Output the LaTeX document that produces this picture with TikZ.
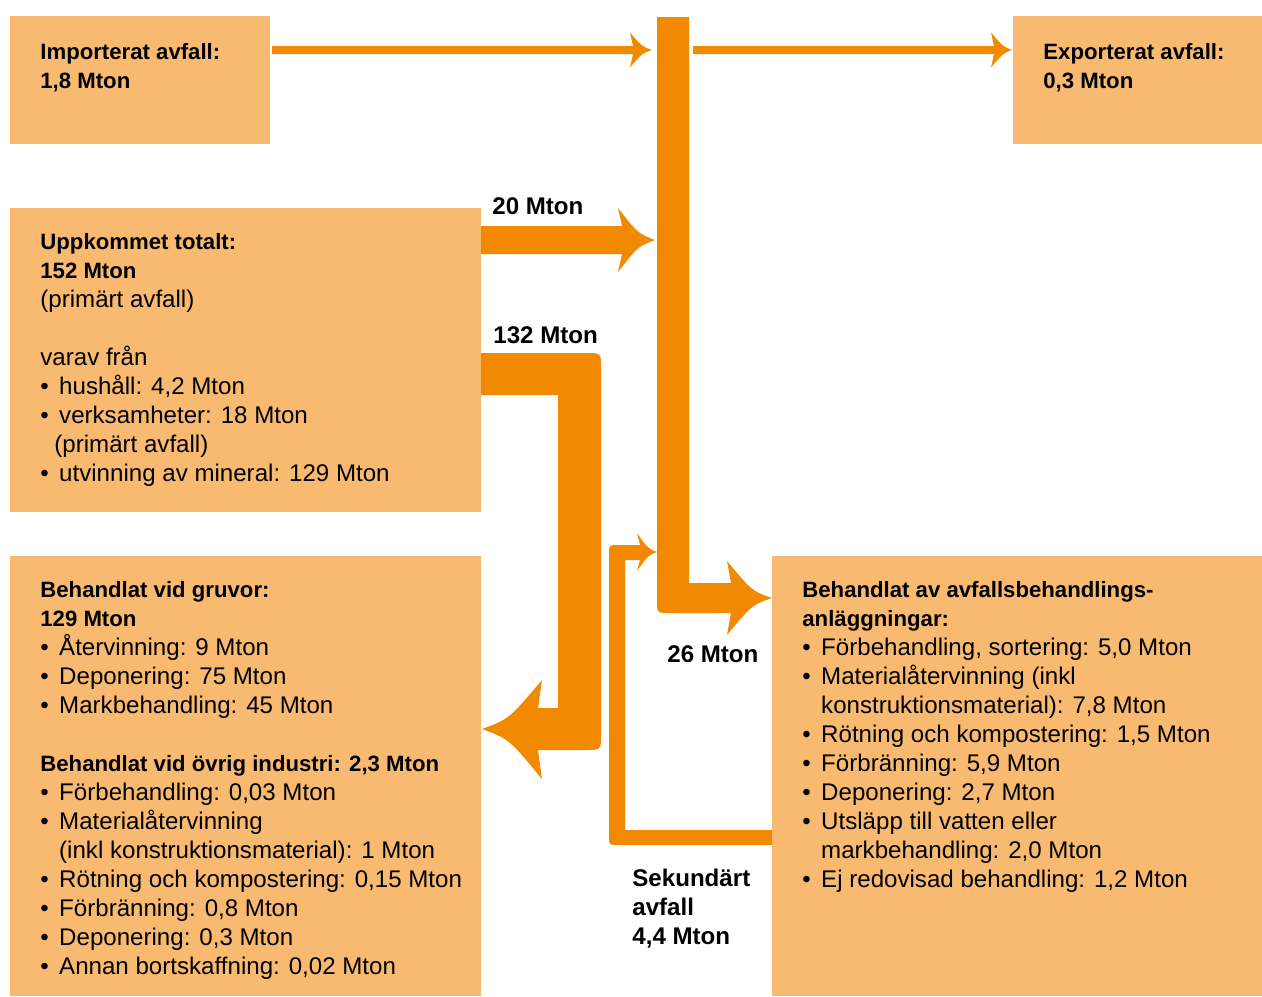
\documentclass[tikz,border=0pt]{standalone}
\usepackage{fontspec}
\setmainfont{Liberation Sans}[BoldFeatures={Scale=0.92}]
\definecolor{flowor}{RGB}{241,138,0}
\definecolor{boxor}{RGB}{248,186,112}
\newcommand{\bul}{\textbullet\hspace{5.2pt}}
\newcommand{\ind}{\hspace*{9.4pt}}

\begin{document}
\begin{tikzpicture}[
  x=0.5pt, y=-0.5pt,
  box/.style={fill=boxor, draw=none, inner sep=0pt, anchor=north west},
  flow/.style={fill=flowor},
  txt/.style={anchor=north west, align=left, inner sep=0pt,
    font=\fontsize{12.05}{14.5}\selectfont},
  lbl/.style={txt, font=\fontsize{13.1}{14.4}\selectfont\bfseries},
]
\useasboundingbox (0,0) rectangle (1262,996);

% boxes
\node[box, minimum width=130pt, minimum height=64pt]   (impbox) at (10,16) {};
\node[box, minimum width=124.5pt, minimum height=64pt] (expbox) at (1013,16) {};
\node[box, minimum width=235.5pt, minimum height=152pt] (uppbox) at (10,208) {};
\node[box, minimum width=235.5pt, minimum height=220pt] (gruvbox) at (10,556) {};
\node[box, minimum width=245pt, minimum height=220pt] (anlbox) at (772,556) {};

% flows
\fill[flow] (272,46) -- (633,46) -- (630,32.5) .. controls (642,46.5) .. (652,50)
  .. controls (642,53.5) .. (630,67.5) -- (633,54) -- (272,54) -- cycle;
\fill[flow] (693,46) -- (994,46) -- (991,32.5) .. controls (1003,46.5) .. (1012,50)
  .. controls (1003,53.5) .. (991,67.5) -- (994,54) -- (693,54) -- cycle;
\fill[flow] (481,226) -- (622,226) -- (618,208) .. controls (638,233.5) .. (655,240)
  .. controls (638,246.5) .. (618,272) -- (622,254) -- (481,254) -- cycle;
\fill[flow] (657,17) -- (689,17) -- (689,583) -- (731,583) -- (727,561)
  .. controls (752,591) .. (772,598) .. controls (752,605) .. (727,635)
  -- (731,613) -- (670,613) .. controls (657,613) .. (657,600) -- cycle;
\fill[flow] (481,353) -- (586,353) .. controls (601,353) .. (601,368)
  -- (601,735) .. controls (601,750) .. (586,750) -- (538,750) -- (542,779)
  .. controls (509,739) .. (482,729) .. controls (509,719) .. (542,680)
  -- (538,708) -- (558,708) -- (558,395) -- (481,395) -- cycle;
\fill[flow] (772,830) -- (625,830) -- (625,560) -- (640,560) -- (637,571)
  .. controls (648,555.5) .. (657,552) .. controls (648,548.5) .. (637,533)
  -- (640,545) -- (618,545) .. controls (609,545) .. (609,554)
  -- (609,836) .. controls (609,845) .. (618,845) -- (772,845) -- cycle;

% texts
\node[txt] (imptext) at (40,43) {\textbf{Importerat avfall:}\\\textbf{1,8 Mton}};
\node[txt] (exptext) at (1043,43) {\textbf{Exporterat avfall:}\\\textbf{0,3 Mton}};
\node[txt] (upptext) at (40,233) {\textbf{Uppkommet totalt:}\\
  \textbf{152 Mton}\\
  (primärt avfall)\\[14.5pt]
  varav från\\
  \bul hushåll: 4,2 Mton\\
  \bul verksamheter: 18 Mton\\
  \hspace*{7pt}(primärt avfall)\\
  \bul utvinning av mineral: 129 Mton};
\node[txt] (gruvtext) at (40,581) {\textbf{Behandlat vid gruvor:}\\
  \textbf{129 Mton}\\
  \bul Återvinning: 9 Mton\\
  \bul Deponering: 75 Mton\\
  \bul Markbehandling: 45 Mton\\[14.5pt]
  \textbf{Behandlat vid övrig industri: 2,3 Mton}\\
  \bul Förbehandling: 0,03 Mton\\
  \bul Materialåtervinning\\
  \ind(inkl konstruktionsmaterial): 1 Mton\\
  \bul Rötning och kompostering: 0,15 Mton\\
  \bul Förbränning: 0,8 Mton\\
  \bul Deponering: 0,3 Mton\\
  \bul Annan bortskaffning: 0,02 Mton};
\node[txt] (anltext) at (802,581) {\textbf{Behandlat av avfallsbehandlings-}\\
  \textbf{anläggningar:}\\
  \bul Förbehandling, sortering: 5,0 Mton\\
  \bul Materialåtervinning (inkl\\
  \ind konstruktionsmaterial): 7,8 Mton\\
  \bul Rötning och kompostering: 1,5 Mton\\
  \bul Förbränning: 5,9 Mton\\
  \bul Deponering: 2,7 Mton\\
  \bul Utsläpp till vatten eller\\
  \ind markbehandling: 2,0 Mton\\
  \bul Ej redovisad behandling: 1,2 Mton};

% flow labels
\node[lbl] (lbltwenty) at (492,197) {20 Mton};
\node[lbl] (lblmain) at (493,326) {132 Mton};
\node[lbl] (lblsix) at (667,645) {26 Mton};
\node[lbl] (lblsek) at (632,869) {Sekundärt\\avfall\\4,4 Mton};
\end{tikzpicture}
\end{document}
